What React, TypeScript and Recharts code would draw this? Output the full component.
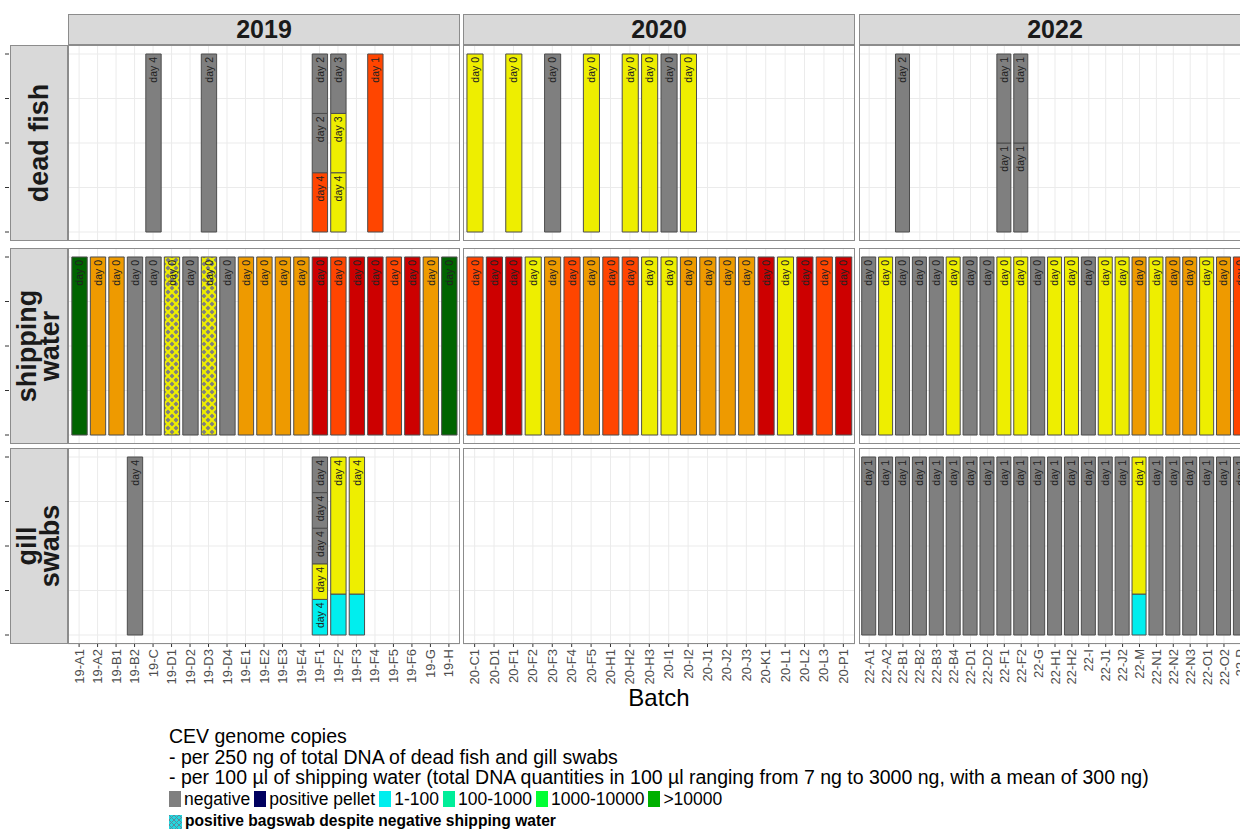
import React from "react";
import { BarChart, Bar, Cell, XAxis, YAxis, CartesianGrid, LabelList } from "recharts";

const font = "'Liberation Sans', Arial, sans-serif";

// x categories of each year facet
const batches2019 = ["19-A1", "19-A2", "19-B1", "19-B2", "19-C", "19-D1", "19-D2", "19-D3", "19-D4", "19-E1", "19-E2", "19-E3", "19-E4", "19-F1", "19-F2", "19-F3", "19-F4", "19-F5", "19-F6", "19-G", "19-H"];
const batches2020 = ["20-C1", "20-D1", "20-F1", "20-F2", "20-F3", "20-F4", "20-F5", "20-H1", "20-H2", "20-H3", "20-I1", "20-I2", "20-J1", "20-J2", "20-J3", "20-K1", "20-L1", "20-L2", "20-L3", "20-P1"];
const batches2022 = ["22-A1", "22-A2", "22-B1", "22-B2", "22-B3", "22-B4", "22-D1", "22-D2", "22-F1", "22-F2", "22-G", "22-H1", "22-H2", "22-I", "22-J1", "22-J2", "22-M", "22-N1", "22-N2", "22-N3", "22-O1", "22-O2", "22-P"];

// shipping water: one result per batch, all sampled on day 0
const shipping2019 = ["darkgreen", "orange", "orange", "gray", "gray", "hatch", "gray", "hatch", "gray", "orange", "orange", "orange", "orange", "red", "orangered", "red", "red", "orangered", "red", "orange", "darkgreen"];
const shipping2020 = ["orangered", "red", "red", "yellow", "orange", "orangered", "orange", "orangered", "orangered", "yellow", "yellow", "orange", "orange", "orange", "orange", "red", "yellow", "red", "orangered", "red"];
const shipping2022 = ["gray", "yellow", "gray", "gray", "gray", "yellow", "gray", "gray", "yellow", "yellow", "gray", "yellow", "yellow", "gray", "yellow", "yellow", "orange", "yellow", "orange", "orange", "yellow", "orange", "orangered"];

// single samples: [batch, result, day, share of bar], stacked bottom to top
const deadFish2019 = [
  ["19-C", "gray", "day 4", 1],
  ["19-D3", "gray", "day 2", 1],
  ["19-F1", "orangered", "day 4", 0.333], ["19-F1", "gray", "day 2", 0.333], ["19-F1", "gray", "day 2", 0.334],
  ["19-F2", "yellow", "day 4", 0.333], ["19-F2", "yellow", "day 3", 0.333], ["19-F2", "gray", "day 3", 0.334],
  ["19-F4", "orangered", "day 1", 1],
];
const deadFish2020 = [
  ["20-C1", "yellow", "day 0", 1],
  ["20-F1", "yellow", "day 0", 1],
  ["20-F3", "gray", "day 0", 1],
  ["20-F5", "yellow", "day 0", 1],
  ["20-H2", "yellow", "day 0", 1],
  ["20-H3", "yellow", "day 0", 1],
  ["20-I1", "gray", "day 0", 1],
  ["20-I2", "yellow", "day 0", 1],
];
const deadFish2022 = [
  ["22-B1", "gray", "day 2", 1],
  ["22-F1", "gray", "day 1", 0.5], ["22-F1", "gray", "day 1", 0.5],
  ["22-F2", "gray", "day 1", 0.5], ["22-F2", "gray", "day 1", 0.5],
];
const gill2019 = [
  ["19-B2", "gray", "day 4", 1],
  ["19-F1", "cyan", "day 4", 0.2], ["19-F1", "yellow", "day 4", 0.2], ["19-F1", "gray", "day 4", 0.2], ["19-F1", "gray", "day 4", 0.2], ["19-F1", "gray", "day 4", 0.2],
  ["19-F2", "cyan", "", 0.23], ["19-F2", "yellow", "day 4", 0.77],
  ["19-F3", "cyan", "", 0.23], ["19-F3", "yellow", "day 4", 0.77],
];
const gill2020: any[] = [];
const gill2022Results = ["gray", "gray", "gray", "gray", "gray", "gray", "gray", "gray", "gray", "gray", "gray", "gray", "gray", "gray", "gray", "gray", "yellow", "gray", "gray", "gray", "gray", "gray", "gray"];

const yTicks = [0, 0.125, 0.25, 0.375, 0.5, 0.625, 0.75, 0.875, 1];
const years = ["2019", "2020", "2022"];
const matrices = ["dead fish", "shipping\nwater", "gill\nswabs"];

const legendItems = [
  ["negative", "#7F7F7F"],
  ["positive pellet", "#00005F"],
  ["1-100", "#00EEEE"],
  ["100-1000", "#00EE99"],
  ["1000-10000", "#00FF33"],
  [">10000", "#00B000"],
];

const fills: Record<string, string> = {
  gray: "#7F7F7F",
  yellow: "#EEEE00",
  orange: "#EE9A00",
  orangered: "#FF4500",
  red: "#CD0000",
  darkgreen: "#006400",
  cyan: "#00EEEE",
  hatch: "url(#hatch)",
};

const colLeft = [68, 463, 859];
const panelW = 392;
const rowTop = [45, 248, 448];
const panelH = 196;

function dayZero(batches: string[], results: string[]) {
  return batches.map((b, i) => [b, results[i], "day 0", 1]);
}

function gill2022() {
  const out: any[] = [];
  batches2022.forEach((b, i) => {
    if (gill2022Results[i] === "yellow") {
      out.push([b, "cyan", "", 0.23], [b, "yellow", "day 1", 0.77]);
    } else {
      out.push([b, gill2022Results[i], "day 1", 1]);
    }
  });
  return out;
}

function buildRows(batches: string[], samples: any[]) {
  return batches.map((b) => {
    const row: any = { batch: b };
    samples.filter((s) => s[0] === b).forEach((s, k) => {
      row["v" + k] = s[3];
      row["c" + k] = s[1];
      row["l" + k] = s[2];
    });
    return row;
  });
}

function DayLabel(props: any) {
  const vb = props.viewBox ?? props;
  const { x, y, width } = vb;
  if (!props.value || width == null || isNaN(y)) return null;
  const cx = x + width / 2;
  const ty = y + 3;
  return (
    <text x={cx} y={ty} transform={`rotate(-90 ${cx} ${ty})`} textAnchor="end" dy="0.35em"
      fontSize={10.5} fill="#222" fontFamily={font}>{props.value}</text>
  );
}

function BatchTick({ x, y, payload }: any) {
  return (
    <text x={x} y={y} transform={`rotate(-90 ${x} ${y})`} textAnchor="end" dy="0.35em"
      fontSize={13} fill="#4D4D4D" fontFamily={font}>{payload.value}</text>
  );
}

function YTickMark({ y, payload }: any) {
  if ((payload.value * 4) % 1 !== 0) return <g />;
  return <line x1={5} x2={9} y1={y} y2={y} stroke="#333" strokeWidth={1} />;
}

function Panel({ batches, samples, col, row }: any) {
  const rows = buildRows(batches, samples);
  let nSeg = 1;
  rows.forEach((r) => { while (r["v" + nSeg] !== undefined) nSeg++; });
  const step = panelW / (batches.length + 0.2);
  const showY = col === 0;
  const showX = row === 2;
  const yW = showY ? colLeft[0] : 0;
  const axisH = showX ? 60 : 0;
  return (
    <div style={{ position: "absolute", left: colLeft[col] - yW, top: rowTop[row] }}>
      <BarChart width={panelW + yW} height={panelH + axisH} data={rows}
        margin={{ top: 0, right: 0, bottom: 0, left: 0 }} barSize={step * 0.83}>
        <CartesianGrid stroke="#EBEBEB" />
        <XAxis dataKey="batch" interval={0} hide={!showX} height={axisH}
          padding={{ left: step * 0.1, right: step * 0.1 }}
          axisLine={false} tickLine={{ stroke: "#333" }} tickSize={3} tickMargin={2} tick={<BatchTick />} />
        <YAxis domain={[0, 1]} ticks={yTicks} hide={!showY} width={yW}
          padding={{ top: 9, bottom: 9 }} axisLine={false} tickLine={false} tick={<YTickMark />} />
        {Array.from({ length: nSeg }).map((_, k) => (
          <Bar key={k} dataKey={"v" + k} stackId="a" isAnimationActive={false} stroke="#4D4D4D" strokeWidth={1}>
            {rows.map((r, i) => <Cell key={i} fill={fills[r["c" + k]] ?? "none"} />)}
            <LabelList dataKey={"l" + k} content={DayLabel} />
          </Bar>
        ))}
      </BarChart>
    </div>
  );
}

export default function App() {
  const grid = [
    [[batches2019, deadFish2019], [batches2020, deadFish2020], [batches2022, deadFish2022]],
    [[batches2019, dayZero(batches2019, shipping2019)], [batches2020, dayZero(batches2020, shipping2020)], [batches2022, dayZero(batches2022, shipping2022)]],
    [[batches2019, gill2019], [batches2020, gill2020], [batches2022, gill2022()]],
  ];
  const strip = { background: "#D9D9D9", border: "1px solid #8C8C8C", boxSizing: "border-box" as const, position: "absolute" as const };
  return (
    <div style={{ position: "absolute", left: 0, top: 0, width: 1240, height: 829, overflow: "hidden", background: "#fff", fontFamily: font }}>
      <svg width={0} height={0} style={{ position: "absolute" }}>
        <defs>
          <pattern id="hatch" patternUnits="userSpaceOnUse" width={8} height={8}>
            <rect width={8} height={8} fill="#7F7F7F" />
            <path d="M-1,1 L1,-1 M0,8 L8,0 M7,9 L9,7" stroke="#EEEE00" strokeWidth={2.2} />
            <path d="M-1,7 L1,9 M0,0 L8,8 M7,-1 L9,1" stroke="#EEEE00" strokeWidth={2.2} />
          </pattern>
          <pattern id="hatchLegend" patternUnits="userSpaceOnUse" width={5} height={5}>
            <rect width={5} height={5} fill="#22D8E0" />
            <path d="M0,5 L5,0 M0,0 L5,5" stroke="#5A8A9A" strokeWidth={1} />
          </pattern>
        </defs>
      </svg>

      {grid.map((r, ri) => r.map(([b, s], ci) => (
        <Panel key={ri + "-" + ci} batches={b} samples={s} col={ci} row={ri} />
      )))}

      {grid.map((r, ri) => r.map((_, ci) => (
        <div key={"b" + ri + ci} style={{ position: "absolute", left: colLeft[ci], top: rowTop[ri], width: panelW, height: panelH, border: "1px solid #8C8C8C", boxSizing: "border-box", pointerEvents: "none" }} />
      )))}

      {years.map((y, ci) => (
        <div key={y} style={{ ...strip, left: colLeft[ci], top: 14, width: panelW, height: 31, display: "flex", alignItems: "center", justifyContent: "center", fontWeight: "bold", fontSize: 25, color: "#1A1A1A" }}>{y}</div>
      ))}

      {matrices.map((m, ri) => (
        <div key={m} style={{ ...strip, left: 10, top: rowTop[ri], width: 58, height: panelH }}>
          <div style={{ position: "absolute", left: "50%", top: "50%", transform: "translate(-50%, -50%) rotate(-90deg)", whiteSpace: "pre", textAlign: "center", fontWeight: "bold", fontSize: 27, lineHeight: "23px", color: "#1A1A1A" }}>{m}</div>
        </div>
      ))}

      <div style={{ position: "absolute", left: 0, width: 1318, top: 684, textAlign: "center", fontSize: 24, color: "#000" }}>Batch</div>

      <div style={{ position: "absolute", left: 169, top: 726, fontSize: 19.5, lineHeight: "20.6px", color: "#000", whiteSpace: "nowrap" }}>
        <div>CEV genome copies</div>
        <div>- per 250 ng of total DNA of dead fish and gill swabs</div>
        <div>- per 100 µl of shipping water (total DNA quantities in 100 µl ranging from 7 ng to 3000 ng, with a mean of 300 ng)</div>
        <div style={{ display: "flex", alignItems: "center", fontSize: 17.5, height: 23 }}>
          {legendItems.map(([label, color]) => (
            <span key={label} style={{ display: "flex", alignItems: "center", marginRight: 4 }}>
              <span style={{ display: "inline-block", width: 12, height: 16, background: color, marginRight: 3 }} />
              {label}
            </span>
          ))}
        </div>
        <div style={{ display: "flex", alignItems: "center", fontSize: 15.6, fontWeight: "bold", height: 22 }}>
          <svg width={13} height={14} style={{ marginRight: 3 }}><rect width={13} height={14} fill="url(#hatchLegend)" /></svg>
          positive bagswab despite negative shipping water
        </div>
      </div>
    </div>
  );
}
